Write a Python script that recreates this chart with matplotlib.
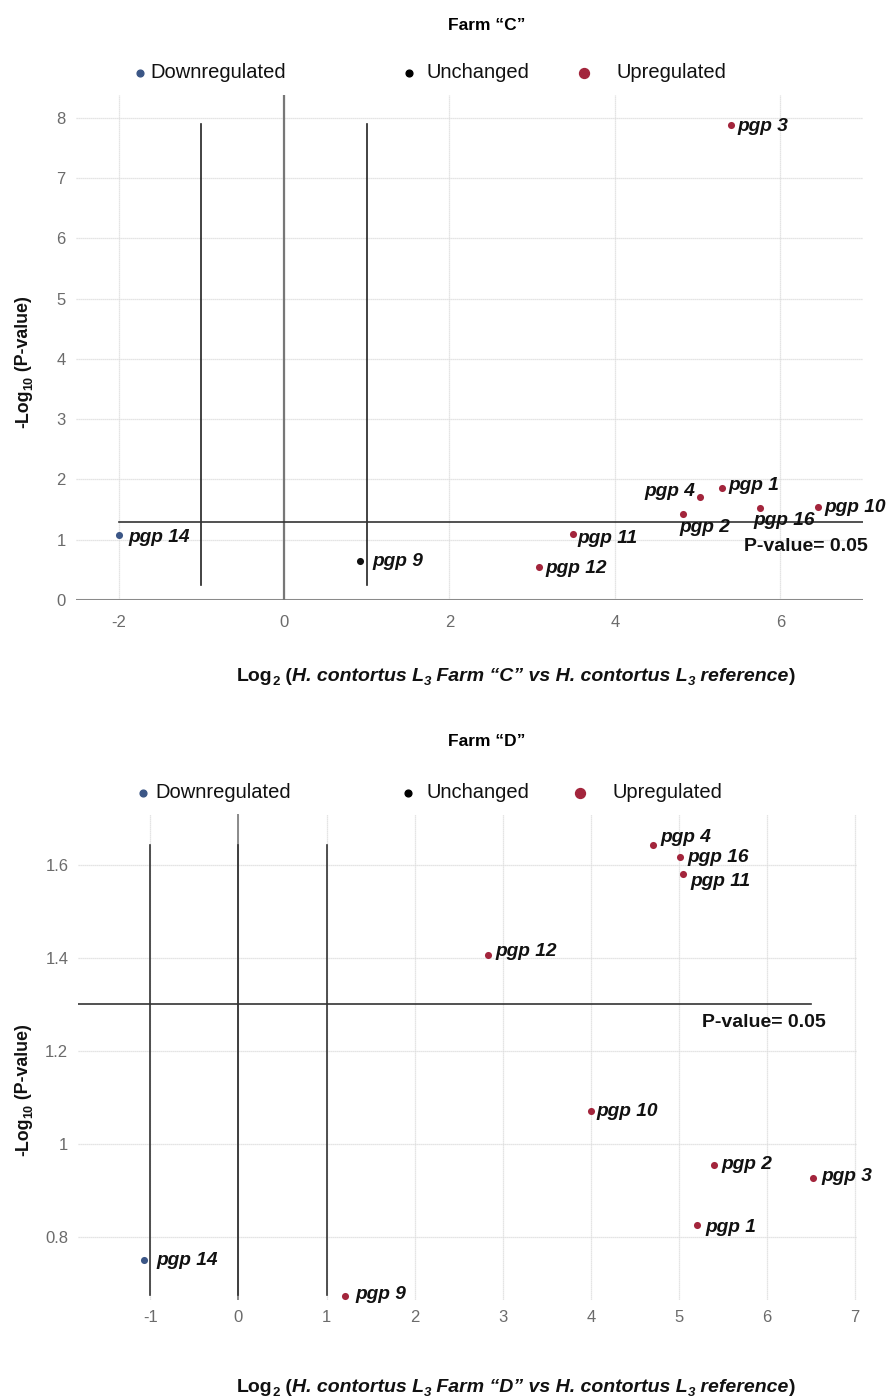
import matplotlib
matplotlib.use("Agg")
import matplotlib.pyplot as plt
from matplotlib.lines import Line2D
from matplotlib import font_manager

# Farm "C" data
genes_c = ["pgp 3", "pgp 1", "pgp 4", "pgp 2", "pgp 16", "pgp 10", "pgp 11", "pgp 12", "pgp 9", "pgp 14"]
log2fc_c = [5.40, 5.29, 5.03, 4.82, 5.75, 6.45, 3.49, 3.08, 0.92, -2.00]
nlogp_c = [7.88, 1.86, 1.71, 1.42, 1.53, 1.54, 1.10, 0.55, 0.65, 1.08]
status_c = ["up", "up", "up", "up", "up", "up", "up", "up", "unchanged", "down"]

# Farm "D" data
genes_d = ["pgp 4", "pgp 16", "pgp 11", "pgp 12", "pgp 10", "pgp 2", "pgp 3", "pgp 1", "pgp 14", "pgp 9"]
log2fc_d = [4.70, 5.01, 5.04, 2.83, 4.00, 5.40, 6.52, 5.20, -1.07, 1.21]
nlogp_d = [1.643, 1.617, 1.581, 1.406, 1.071, 0.955, 0.927, 0.826, 0.751, 0.673]
status_d = ["up", "up", "up", "up", "up", "up", "up", "up", "down", "up"]

p_threshold = 1.301  # -log10(0.05)
fc_cut = [-1, 0, 1]

colors = {"up": "#a3253c", "down": "#3b5686", "unchanged": "#111111"}

names = {f.name for f in font_manager.fontManager.ttflist}
NARROW = "Liberation Sans Narrow" if "Liberation Sans Narrow" in names else "Liberation Sans"
plt.rcParams["font.family"] = ["Liberation Sans", "DejaVu Sans"]

W, H = 891, 1399
fig = plt.figure(figsize=(W / 100, H / 100), dpi=100)


def box(left, top, right, bottom):
    return [left / W, 1 - bottom / H, (right - left) / W, (bottom - top) / H]


def fx(px):
    return px / W


def fy(py):
    return 1 - py / H


def style_axes(ax, xticks, yticks, xpad, ypad):
    ax.set_xticks(xticks)
    ax.set_yticks(yticks)
    ax.set_yticklabels([f"{v:g}" for v in yticks])
    ax.set_xticklabels([f"{v:g}" for v in xticks])
    for s in ax.spines.values():
        s.set_visible(False)
    ax.grid(True, color="#dcdcdc", lw=0.9, ls=(0, (1, 0.6)))
    ax.set_axisbelow(True)
    ax.tick_params(axis="x", length=0, pad=xpad, labelcolor="#6b6b6b", labelsize=12)
    ax.tick_params(axis="y", length=0, pad=ypad, labelcolor="#6b6b6b", labelsize=12)
    for lab in ax.get_xticklabels() + ax.get_yticklabels():
        lab.set_fontfamily(NARROW)


def draw_points(ax, x, y, status, genes, offsets):
    for xi, yi, st, g in zip(x, y, status, genes):
        ax.scatter(xi, yi, s=26, color=colors[st], zorder=5, linewidths=0)
        dx, dy, ha = offsets[g]
        ax.annotate(g, (xi, yi), xytext=(dx, dy), textcoords="offset pixels",
                    ha=ha, va="center", fontsize=13.8, fontweight="bold",
                    fontstyle="italic", color="#111111", zorder=6)


def legend(y_px, xs):
    (xb, xbt), (xk, xkt), (xr, xrt) = xs
    for xm, ms, c in [(xb, 6.5, colors["down"]), (xk, 6.5, "#000000"), (xr, 9.5, colors["up"])]:
        fig.add_artist(Line2D([fx(xm)], [fy(y_px + 1)], marker="o", ms=ms * 0.75,
                              color=c, ls="none", transform=fig.transFigure))
    for xt, s in [(xbt, "Downregulated"), (xkt, "Unchanged"), (xrt, "Upregulated")]:
        fig.text(fx(xt), fy(y_px), s, ha="left", va="center", fontsize=14.5,
                 fontfamily=NARROW, color="#111111")


def rich_text(x_px, y_px, pieces, rotation=0):
    # pieces: (text, fontsize, style, subscript?)
    renderer = fig.canvas.get_renderer()
    kws = []
    widths = []
    for s, size, style, sub in pieces:
        kw = dict(fontsize=size, fontweight="bold", fontstyle=style, fontfamily=NARROW)
        t = fig.text(0, 0, s, **kw)
        widths.append(t.get_window_extent(renderer).width)
        t.remove()
        kws.append(kw)
    pos = -sum(widths) / 2
    for (s, size, style, sub), kw, w in zip(pieces, kws, widths):
        drop = 4 if sub else 0
        if rotation == 0:
            px, py = x_px + pos, y_px + drop
        else:
            px, py = x_px + drop, y_px - pos
        fig.text(fx(px), fy(py), s, rotation=rotation, rotation_mode="anchor",
                 ha="left", va="baseline", color="#111111", **kw)
        pos += w


def xlabel_pieces(farm):
    return [("Log", 14, "normal", False), ("2", 9.5, "normal", True), (" (", 14, "normal", False),
            ("H. contortus L", 14, "italic", False), ("3", 9.5, "italic", True),
            (f" Farm \u201c{farm}\u201d vs H. contortus L", 14, "italic", False),
            ("3", 9.5, "italic", True), (" reference", 14, "italic", False), (")", 14, "normal", False)]


ylabel_pieces = [("-Log", 12.8, "normal", False), ("10", 9, "normal", True), (" (P-value)", 12.8, "normal", False)]

# ---------- Farm "C" ----------
ax1 = fig.add_axes(box(75.5, 95, 863, 600))
ax1.set_xlim(-2.52, 7.0)
ax1.set_ylim(0, 8.38)
style_axes(ax1, [-2, 0, 2, 4, 6], [0, 1, 2, 3, 4, 5, 6, 7, 8], xpad=11, ypad=7)
ax1.axhline(0, color="#8a8a8a", lw=2.2, zorder=3)
ax1.axvline(0, color="#777777", lw=1.6, zorder=3)
for v in (fc_cut[0], fc_cut[2]):
    ax1.plot([v, v], [0.25, 7.9], color="#222222", lw=1.2, zorder=4)
ax1.plot([-2, 7.0], [p_threshold, p_threshold], color="#333333", lw=1.2, zorder=4)

offsets_c = {"pgp 3": (7, -1, "left"), "pgp 1": (7, 2, "left"), "pgp 4": (-5, 5, "right"),
             "pgp 2": (-3, -13, "left"), "pgp 16": (-6, -13, "left"), "pgp 10": (7, 0, "left"),
             "pgp 11": (5, -5, "left"), "pgp 12": (7, -2, "left"), "pgp 9": (12, -1, "left"),
             "pgp 14": (10, -3, "left")}
draw_points(ax1, log2fc_c, nlogp_c, status_c, genes_c, offsets_c)
ax1.text(7.06, 0.88, "P-value= 0.05", ha="right", va="center", clip_on=False,
         fontsize=14, fontweight="bold", color="#111111", zorder=6)

fig.text(fx(487), fy(25), "Farm \u201cC\u201d", ha="center", va="center",
         fontsize=12.5, fontweight="bold", fontfamily=NARROW)
legend(72, [(140, 150), (409, 427), (584, 616)])
rich_text(516, 681, xlabel_pieces("C"))
rich_text(28, 362, ylabel_pieces, rotation=90)

# ---------- Farm "D" ----------
ax2 = fig.add_axes(box(78, 814, 857, 1300))
ax2.set_xlim(-1.82, 7.02)
ax2.set_ylim(0.665, 1.71)
style_axes(ax2, [-1, 0, 1, 2, 3, 4, 5, 6, 7], [0.8, 1.0, 1.2, 1.4, 1.6], xpad=7, ypad=7)
ax2.axvline(0, color="#8a8a8a", lw=1.4, zorder=3)
for v in fc_cut:
    ax2.plot([v, v], [0.675, 1.643], color="#333333", lw=1.2, zorder=4)
ax2.plot([-1.82, 6.5], [p_threshold, p_threshold], color="#333333", lw=1.2, zorder=4)

offsets_d = {"pgp 4": (8, 8, "left"), "pgp 16": (8, 0, "left"), "pgp 11": (8, -8, "left"),
             "pgp 12": (8, 4, "left"), "pgp 10": (6, 0, "left"), "pgp 2": (7, 1, "left"),
             "pgp 3": (8, 2, "left"), "pgp 1": (9, -2, "left"), "pgp 14": (12, 0, "left"),
             "pgp 9": (10, 2, "left")}
draw_points(ax2, log2fc_d, nlogp_d, status_d, genes_d, offsets_d)
ax2.text(6.66, 1.262, "P-value= 0.05", ha="right", va="center",
         fontsize=14, fontweight="bold", color="#111111", zorder=6)

fig.text(fx(487), fy(742), "Farm \u201cD\u201d", ha="center", va="center",
         fontsize=12.5, fontweight="bold", fontfamily=NARROW)
legend(792, [(143, 155), (408, 427), (580, 613)])
rich_text(516, 1392, xlabel_pieces("D"))
rich_text(28, 1090, ylabel_pieces, rotation=90)

fig.savefig("out.png", dpi=100)
